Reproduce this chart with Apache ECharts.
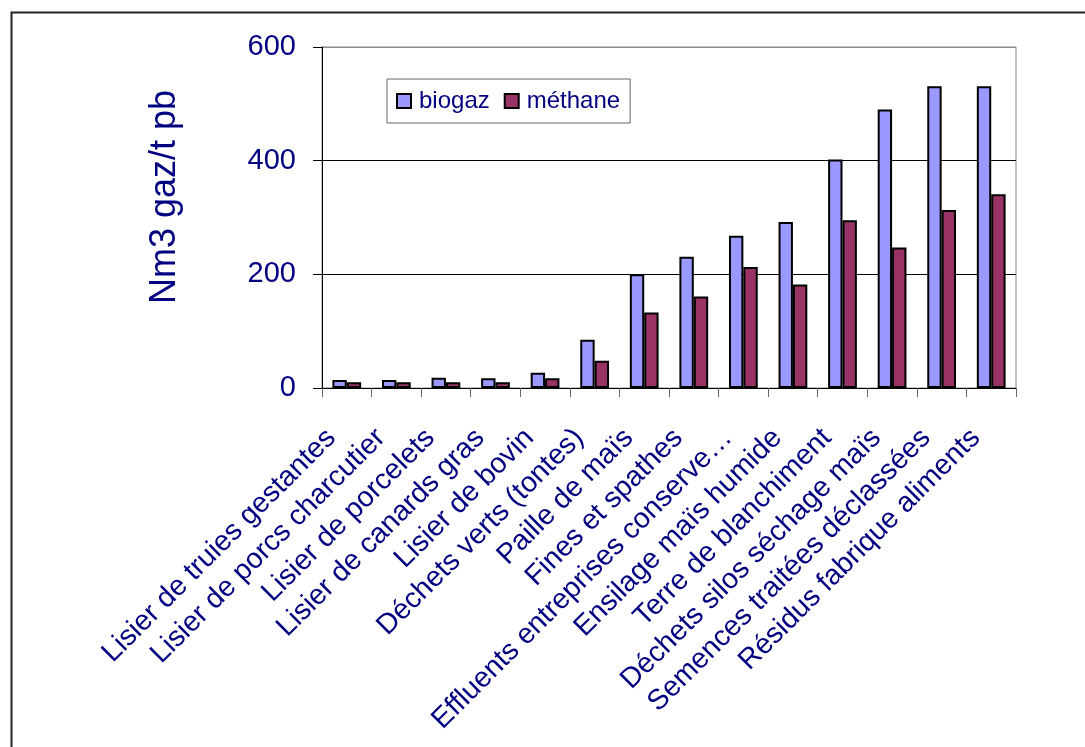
<!DOCTYPE html>
<html>
<head>
<meta charset="utf-8">
<script src="https://cdn.jsdelivr.net/npm/echarts@6/dist/echarts.min.js"></script>
<style>
  html, body { margin: 0; padding: 0; background: #fff; }
  #chart { width: 1085px; height: 747px; }
</style>
</head>
<body>
<div id="chart"></div>
<script>
const categories = [
  "Lisier de truies gestantes",
  "Lisier de porcs charcutier",
  "Lisier de porcelets",
  "Lisier de canards gras",
  "Lisier de bovin",
  "Déchets verts (tontes)",
  "Paille de maïs",
  "Fines et spathes",
  "Effluents entreprises conserve…",
  "Ensilage maïs humide",
  "Terre de blanchiment",
  "Déchets silos séchage maïs",
  "Semences traitées déclassées",
  "Résidus fabrique aliments",
];
const biogaz = [14, 14, 18, 17, 27, 85, 200, 231, 268, 292, 402, 490, 531, 531];
const methane = [10, 10, 10, 10, 17, 48, 133, 161, 213, 182, 295, 247, 313, 341];

const font = "'Liberation Sans', Arial, sans-serif";
const navy = "#000080";

const chart = echarts.init(document.getElementById("chart"));

chart.setOption({
  animation: false,
  textStyle: { fontFamily: font },
  graphic: [
    {
      type: "rect",
      left: 9,
      top: 10,
      shape: { width: 1200, height: 900 },
      style: { fill: "none", stroke: "#222", lineWidth: 2 },
      silent: true,
    },
    {
      type: "text",
      x: 165,
      y: 197,
      rotation: Math.PI / 2,
      style: {
        text: "Nm3 gaz/t pb",
        fill: navy,
        font: "36px " + font,
        align: "center",
        verticalAlign: "middle",
      },
    },
  ],
  grid: {
    left: 322,
    right: 69,
    top: 47,
    bottom: 359,
    show: true,
    borderColor: "#888",
    borderWidth: 1,
  },
  legend: {
    left: 387,
    top: 79,
    orient: "horizontal",
    icon: "rect",
    padding: [10, 10, 10, 9],
    itemWidth: 14,
    itemHeight: 14,
    itemGap: 14,
    borderColor: "#666",
    borderWidth: 1,
    textStyle: { color: navy, fontSize: 24, fontFamily: font, padding: [0, 0, 0, 3] },
    data: ["biogaz", "méthane"],
  },
  xAxis: {
    type: "category",
    data: categories,
    axisLine: { lineStyle: { color: "#000", width: 1 } },
    axisTick: { show: true, length: 9, lineStyle: { color: "#666" } },
    axisLabel: {
      interval: 0,
      rotate: 45,
      margin: 30,
      color: navy,
      fontSize: 28.5,
      fontFamily: font,
      padding: [0, 22, 0, 0],
    },
  },
  yAxis: {
    type: "value",
    min: 0,
    max: 600,
    interval: 200,
    axisLine: { show: true, lineStyle: { color: "#000", width: 1 } },
    axisTick: { show: true, length: 9, lineStyle: { color: "#000" } },
    axisLabel: { color: navy, fontSize: 29, fontFamily: font, margin: 26 },
    splitLine: { lineStyle: { color: ["#000", "#000", "#000", "#888"], width: 1 } },
  },
  series: [
    {
      name: "biogaz",
      type: "bar",
      data: biogaz,
      barGap: "0%",
      barCategoryGap: "42%",
      itemStyle: { color: "#9999ff", borderColor: "#000", borderWidth: 2 },
    },
    {
      name: "méthane",
      type: "bar",
      data: methane,
      itemStyle: { color: "#993366", borderColor: "#000", borderWidth: 2 },
    },
  ],
});
</script>
</body>
</html>
